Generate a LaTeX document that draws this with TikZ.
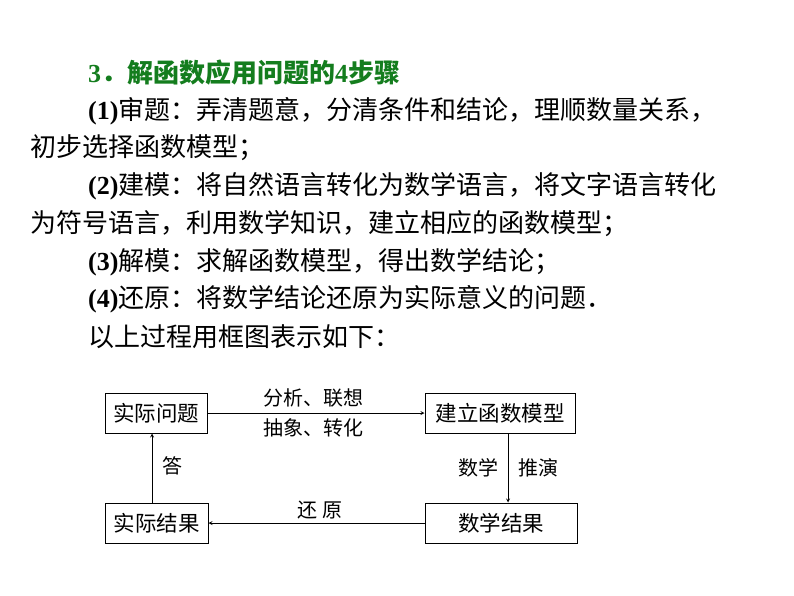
\documentclass[tikz,border=0pt]{standalone}
\usepackage{fontspec}
\setmainfont{Liberation Serif}
\newfontfamily\cjk{Noto Sans CJK SC}
\definecolor{ttl}{RGB}{20,125,30}
\begin{document}
\begin{tikzpicture}[x=1pt,y=-1pt,
 line/.style={anchor=west,inner sep=0pt,font=\fontsize{26}{26}\selectfont},
 box/.style={draw,line width=1pt,minimum height=40pt,inner sep=0pt,font=\cjk\fontsize{21.5}{21.5}\selectfont},
 lab/.style={inner sep=0pt,font=\cjk\fontsize{20}{20}\selectfont},
 arr/.style={-stealth,line width=0.8pt}]
\useasboundingbox (0,0) rectangle (794,596);
\node[line,text=ttl] (t0) at (88,73) {\textbf{3}{\cjk\bfseries ．解函数应用问题的}\textbf{4}{\cjk\bfseries 步骤}};
\node[line] (t1) at (88,111) {\textbf{(1)}{\cjk 审题：弄清题意，分清条件和结论，理顺数量关系，}};
\node[line] (t2) at (30,148) {\cjk 初步选择函数模型；};
\node[line] (t3) at (88,186) {\textbf{(2)}{\cjk 建模：将自然语言转化为数学语言，将文字语言转化}};
\node[line] (t4) at (30,224) {\cjk 为符号语言，利用数学知识，建立相应的函数模型；};
\node[line] (t5) at (88,262) {\textbf{(3)}{\cjk 解模：求解函数模型，得出数学结论；}};
\node[line] (t6) at (88,299) {\textbf{(4)}{\cjk 还原：将数学结论还原为实际意义的问题．}};
\node[line] (t7) at (88,337) {\cjk 以上过程用框图表示如下：};
\node[box,minimum width=102pt] (a) at (156,413) {实际问题};
\node[box,minimum width=150pt] (b) at (500,413) {建立函数模型};
\node[box,minimum width=152pt] (c) at (501,523) {数学结果};
\node[box,minimum width=103pt] (d) at (156.5,523) {实际结果};
\draw[arr] (a.east) -- (b.west);
\draw[arr] (b.south -| 508,0) -- (c.north -| 508,0);
\draw[arr] (c.west) -- (d.east);
\draw[arr] (d.north -| 152,0) -- (a.south -| 152,0);
\node[lab] (l1) at (313,398) {分析、联想};
\node[lab] (l2) at (313,428) {抽象、转化};
\node[lab] (l3) at (478,468) {数学};
\node[lab] (l4) at (538,468) {推演};
\node[lab] (l5) at (172,466) {答};
\node[lab] (l6) at (320,510) {还\ 原};
\end{tikzpicture}
\end{document}
